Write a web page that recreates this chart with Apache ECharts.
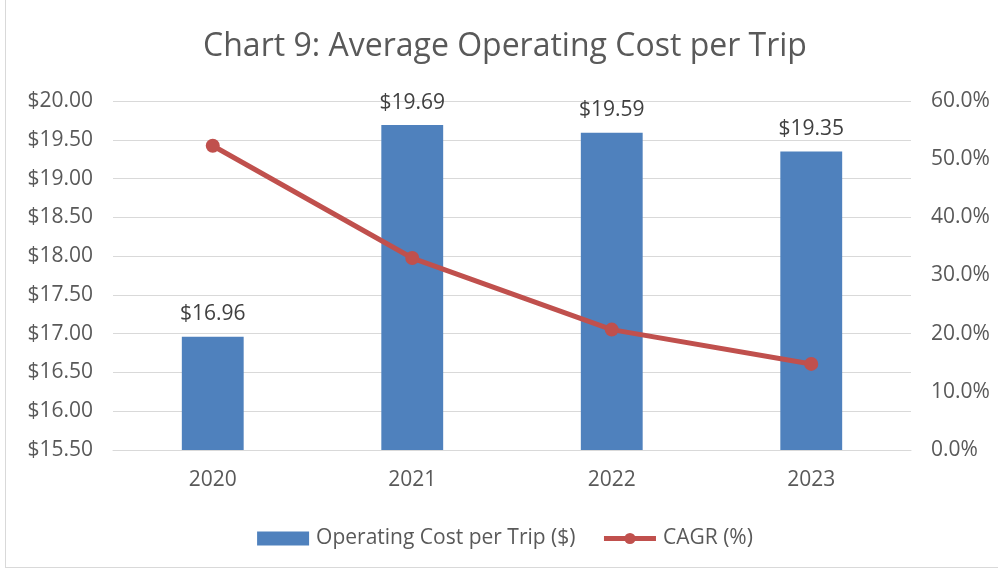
<!DOCTYPE html>
<html>
<head>
<meta charset="utf-8">
<script src="https://cdn.jsdelivr.net/npm/echarts@6/dist/echarts.min.js"></script>
<style>
  html, body { margin: 0; padding: 0; background: #fff; }
  #chart { position: absolute; left: 5px; top: -1px; width: 1000px; height: 569px; border: 1px solid #d9d9d9; box-sizing: border-box; }
</style>
</head>
<body>
<div id="chart"></div>
<script>
var years = ['2020', '2021', '2022', '2023']
var costPerTrip = [16.96, 19.69, 19.59, 19.35]
var cagr = [52.3, 33.0, 20.7, 14.8]

var FONT = '"Open Sans", "Noto Sans", sans-serif'
var chart = echarts.init(document.getElementById('chart'))

chart.setOption({
  animation: false,
  textStyle: { fontFamily: FONT },
  title: {
    text: 'Chart 9: Average Operating Cost per Trip',
    left: 'center',
    top: 26,
    textStyle: { fontSize: 32, fontWeight: 'normal', color: '#595959', fontFamily: FONT }
  },
  legend: {
    bottom: 13,
    left: 'center',
    itemGap: 26,
    itemWidth: 52,
    itemHeight: 14,
    textStyle: { fontSize: 21, color: '#595959', fontFamily: FONT, padding: [0, 0, 0, 2] },
    data: [
      { name: 'Operating Cost per Trip ($)', icon: 'rect' },
      { name: 'CAGR (%)', itemStyle: { color: '#c0504d' }, lineStyle: { width: 5 } }
    ]
  },
  grid: { left: 107, right: 93, top: 101, bottom: 117, containLabel: false },
  xAxis: {
    type: 'category',
    data: years,
    axisLine: { show: true, lineStyle: { color: '#d9d9d9' } },
    axisTick: { show: false },
    axisLabel: { fontSize: 21, color: '#595959', margin: 20 }
  },
  yAxis: [
    {
      type: 'value',
      min: 15.5,
      max: 20,
      interval: 0.5,
      axisLine: { show: false },
      axisTick: { show: false },
      splitLine: { lineStyle: { color: '#d9d9d9', width: 1 } },
      axisLabel: {
        fontSize: 21, color: '#595959', margin: 20,
        formatter: function (v) { return '$' + v.toFixed(2) }
      }
    },
    {
      type: 'value',
      min: 0,
      max: 60,
      interval: 10,
      axisLine: { show: false },
      axisTick: { show: false },
      splitLine: { show: false },
      axisLabel: {
        fontSize: 21, color: '#595959', margin: 20,
        formatter: function (v) { return v.toFixed(1) + '%' }
      }
    }
  ],
  series: [
    {
      name: 'Operating Cost per Trip ($)',
      type: 'bar',
      data: costPerTrip,
      barWidth: '31%',
      itemStyle: { color: '#4f81bd' },
      label: {
        show: true,
        position: 'top',
        distance: 12,
        fontSize: 21,
        color: '#404040',
        formatter: function (p) { return '$' + p.value.toFixed(2) }
      }
    },
    {
      name: 'CAGR (%)',
      type: 'line',
      yAxisIndex: 1,
      data: cagr,
      symbol: 'circle',
      symbolSize: 14,
      lineStyle: { color: '#c0504d', width: 5 },
      itemStyle: { color: '#c0504d' }
    }
  ]
})
</script>
</body>
</html>
